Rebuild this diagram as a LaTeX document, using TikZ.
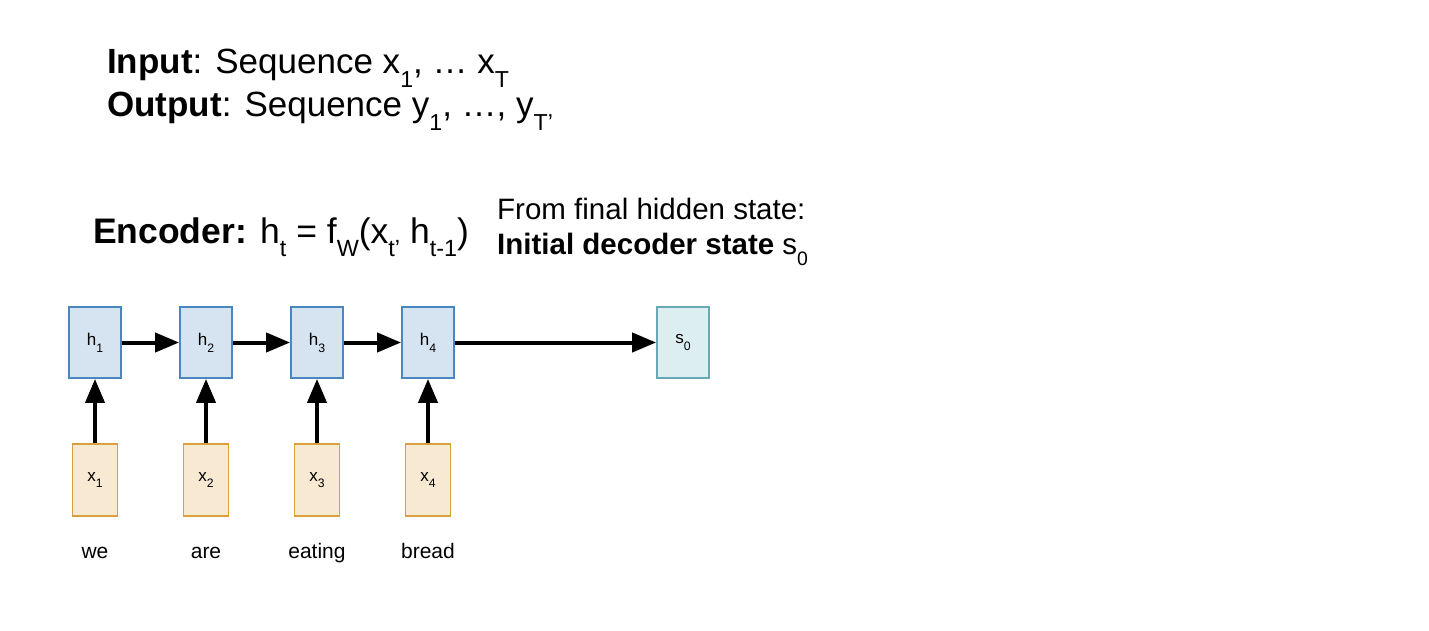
\documentclass[tikz,border=0pt]{standalone}
\usepackage{fontspec}
\setmainfont{Liberation Sans}
\usepackage{graphicx}
\usetikzlibrary{arrows.meta}
\newcommand\lowsub[1]{\raisebox{-0.38em}{\scalebox{0.66}{#1}}}
\newcommand\boxsub[1]{\raisebox{-0.4em}{\scalebox{0.72}{#1}}}
\definecolor{hfill}{HTML}{D6E4F2}
\definecolor{hdraw}{HTML}{4A86BF}
\definecolor{sfill}{HTML}{DCEEF0}
\definecolor{sdraw}{HTML}{67AAB4}
\definecolor{xfill}{HTML}{F8E9D3}
\definecolor{xdraw}{HTML}{D9A13E}
\tikzset{
  hbox/.style={draw=hdraw,fill=hfill,line width=1.8pt,minimum width=52pt,minimum height=71pt,inner sep=0pt,font=\fontsize{17pt}{20pt}\selectfont},
  sbox/.style={hbox,draw=sdraw,fill=sfill},
  xbox/.style={draw=xdraw,fill=xfill,line width=1.8pt,minimum width=45pt,minimum height=72pt,inner sep=0pt,font=\fontsize{17pt}{20pt}\selectfont},
  word/.style={font=\fontsize{21pt}{24pt}\selectfont,anchor=base,inner sep=0pt},
  conn/.style={line width=4pt,-{Triangle[length=24pt,width=19pt]}},
  title/.style={anchor=base west,inner sep=0pt,font=\fontsize{35pt}{40pt}\selectfont},
}
\begin{document}
\begin{tikzpicture}[x=1pt,y=-1pt]
\useasboundingbox[fill=white] (0,0) rectangle (1429,631);
% titles
\node[title] (in) at (107,74) {\textbf{Input}: Sequence x\lowsub{1}, … x\lowsub{T}};
\node[title] (out) at (107,117) {\textbf{Output}: Sequence y\lowsub{1}, …, y\lowsub{T’}};
\node[title,font=\fontsize{35.5pt}{40pt}\selectfont] (enc) at (93,243) {\textbf{Encoder:} h\lowsub{t} = f\lowsub{W}(x\lowsub{t’} h\lowsub{t-1})};
\node[title,font=\fontsize{29.5pt}{32pt}\selectfont] (from) at (497,219) {From final hidden state:};
\node[title,font=\fontsize{29.5pt}{32pt}\selectfont] (init) at (497,254) {\textbf{Initial decoder state} s\lowsub{0}};
% boxes
\foreach \i/\cx in {1/95,2/206,3/317,4/428}{
  \node[hbox] (h\i) at (\cx,342.5) {h\boxsub{\i}};
  \node[xbox] (x\i) at (\cx,480) {x\boxsub{\i}};
  \draw[conn] (x\i.north) -- (h\i.south);
}
\node[sbox] (s0) at (683,342.5) {s\boxsub{0}};
\draw[conn] (h1) -- (h2);
\draw[conn] (h2) -- (h3);
\draw[conn] (h3) -- (h4);
\draw[conn] (h4) -- (s0);
% words
\node[word] (w1) at (95,558) {we};
\node[word] (w2) at (206,558) {are};
\node[word] (w3) at (317,558) {eating};
\node[word] (w4) at (428,558) {bread};
\end{tikzpicture}
\end{document}
